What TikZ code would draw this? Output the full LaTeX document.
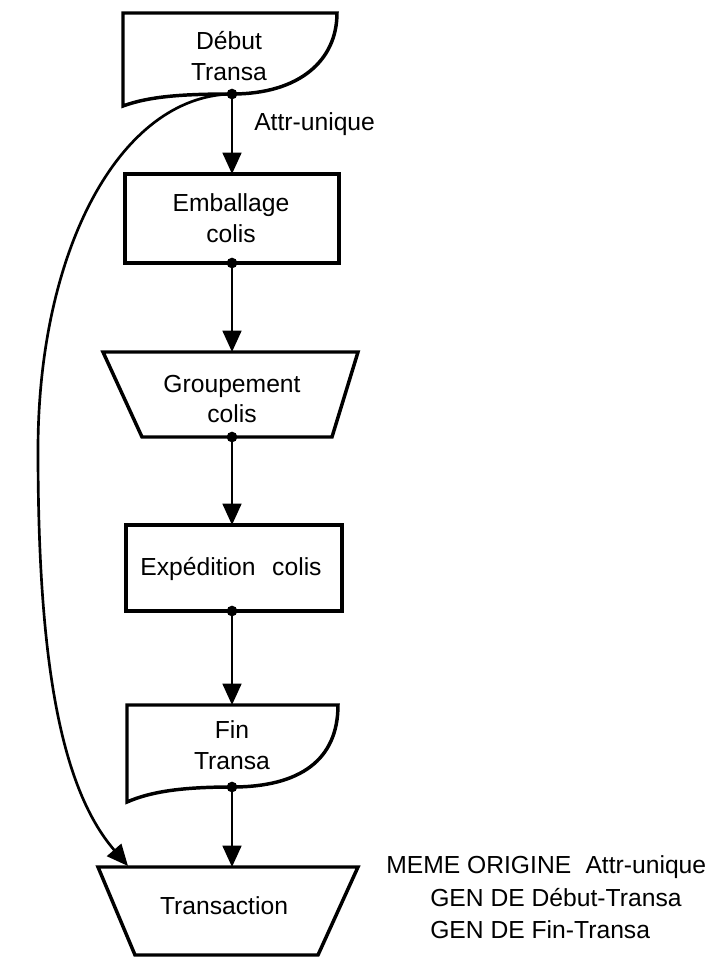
\documentclass[tikz,border=0pt]{standalone}
\usepackage{fontspec}
\setmainfont{Liberation Sans}
\usetikzlibrary{arrows.meta}

\tikzset{
  outline/.style={draw=black, line width=2.6pt, line join=miter},
  flow/.style={draw=black, line width=2pt, -{Triangle[length=16pt,width=14pt]}},
  lbl/.style={inner sep=0pt, align=center, font=\fontsize{18.5}{23}\selectfont},
  note/.style={inner sep=0pt, anchor=base west, font=\fontsize{18.5}{23}\selectfont},
  junction/.style={fill=black}
}

\begin{document}
\begin{tikzpicture}[x=0.75pt, y=-0.75pt]
  \useasboundingbox[fill=white] (0,0) rectangle (722,958);

  % Début Transa (document shape)
  \draw[outline] (123,13) -- (337,13)
    .. controls (337,60) and (300,94) .. (232,94)
    .. controls (185,94) and (150,96) .. (123,106) -- cycle;
  \node[lbl] (debut) at (229,56) {Début\\Transa};
  \coordinate (debut-out) at (232,94);

  % Emballage colis (process box)
  \draw[outline] (125,174) rectangle (339,263);
  \node[lbl] (emballage) at (231,218) {Emballage\\colis};
  \coordinate (emb-in) at (232,174);
  \coordinate (emb-out) at (232,263);

  % Groupement colis (trapezium)
  \draw[outline] (103,352) -- (358,352) -- (332,437) -- (142,437) -- cycle;
  \node[lbl] (groupement) at (232,399) {Groupement\\colis};
  \coordinate (grp-in) at (232,352);
  \coordinate (grp-out) at (232,437);

  % Expédition colis (process box)
  \draw[outline] (126,525) rectangle (342,611);
  \node[lbl] (expedition) at (231,569) {Expédition\hspace{0.4em} colis};
  \coordinate (exp-in) at (232,525);
  \coordinate (exp-out) at (232,611);

  % Fin Transa (document shape)
  \draw[outline] (127,705) -- (338,705)
    .. controls (338,760) and (300,787) .. (232,787)
    .. controls (180,787) and (150,792) .. (127,802) -- cycle;
  \node[lbl] (fin) at (232,745) {Fin\\Transa};
  \coordinate (fin-in) at (232,705);
  \coordinate (fin-out) at (232,787);

  % Transaction (trapezium)
  \draw[outline] (98,867) -- (358,867) -- (318,955) -- (135,955) -- cycle;
  \node[lbl] (transaction) at (224,906) {Transaction};
  \coordinate (tr-in) at (232,867);
  \coordinate (tr-side) at (128,866);

  % connectors
  \draw[flow] (debut-out) -- (emb-in);
  \draw[flow] (emb-out) -- (grp-in);
  \draw[flow] (grp-out) -- (exp-in);
  \draw[flow] (exp-out) -- (fin-in);
  \draw[flow] (fin-out) -- (tr-in);
  \draw[flow] (debut-out) .. controls (120,96) and (38,250) .. (38,450)
                          .. controls (38,650) and (58,785) .. (tr-side);

  % junction dots
  \foreach \p in {debut-out, emb-out, grp-out, exp-out, fin-out}
    \fill[junction] (\p) circle (4pt);

  % labels
  \node[note] (attr) at (254,130) {Attr-unique};
  \node[note] (rule1) at (386,873) {MEME ORIGINE\hspace{0.3em} Attr-unique};
  \node[note] (rule2) at (430,906) {GEN DE Début-Transa};
  \node[note] (rule3) at (430,938) {GEN DE Fin-Transa};
\end{tikzpicture}
\end{document}
